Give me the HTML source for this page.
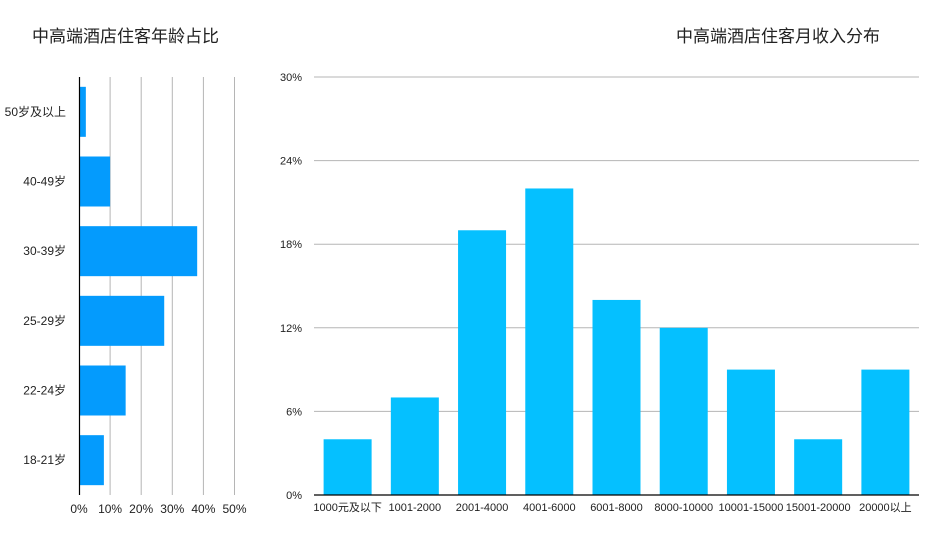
<!DOCTYPE html>
<html><head><meta charset="utf-8"><style>
body{margin:0;background:#fff;font-family:"Liberation Sans","Noto Sans CJK SC",sans-serif;}
svg text{font-family:"Liberation Sans","Noto Sans CJK SC",sans-serif;fill:#222;}
</style></head><body>
<svg id="c" width="931" height="537">
<text x="32" y="42" font-size="17">中高端酒店住客年龄占比</text>
<text x="778" y="42" font-size="17" text-anchor="middle">中高端酒店住客月收入分布</text>
<g id="left"></g>
<g id="right"></g>
</svg>
<script>
const ageCats=["50岁及以上","40-49岁","30-39岁","25-29岁","22-24岁","18-21岁"];
const ageVals=[2.2,10,38,27.4,15,8];
const ageTicks=[0,10,20,30,40,50];
const incCats=["1000元及以下","1001-2000","2001-4000","4001-6000","6001-8000","8000-10000","10001-15000","15001-20000","20000以上"];
const incVals=[4,7,19,22,14,12,9,4,9];
const incTicks=[0,6,12,18,24,30];
const NS="http://www.w3.org/2000/svg";
function mk(p,t,a){const e=document.createElementNS(NS,t);for(const k in a)e.setAttribute(k,a[k]);p.appendChild(e);return e;}
// left chart
const L=document.getElementById('left');
const lx=v=>79+v*3.11, lTop=77, lBot=495, band=(lBot-lTop)/ageCats.length;
ageTicks.forEach(t=>{
 if(t>0){const g=mk(L,'line',{x1:lx(t),x2:lx(t),y1:lTop,y2:lBot,stroke:'#b5b5b5','stroke-width':1});
 
 }
 const tx=mk(L,'text',{x:lx(t),y:513,'font-size':12,'text-anchor':'middle'});tx.textContent=t+'%';
 
 
});
ageCats.forEach((c,i)=>{
 const yc=lTop+band*(i+0.5);
 const r=mk(L,'rect',{x:lx(0),y:yc-25,width:lx(ageVals[i])-lx(0),height:50,fill:'#049bfd'});
 
 
 const t=mk(L,'text',{x:66,y:yc+4,'font-size':12,'text-anchor':'end'});t.textContent=c;
 
 
});
const la=mk(L,'line',{x1:79.5,x2:79.5,y1:lTop,y2:lBot,stroke:'#000','stroke-width':1.2});


// right chart
const R=document.getElementById('right');
const x0=314,x1=919,ry=v=>495-v*(418/30),rb=(x1-x0)/incCats.length;
incTicks.forEach(t=>{
 if(t>0){const g=mk(R,'line',{x1:x0,x2:x1,y1:ry(t),y2:ry(t),stroke:'#b5b5b5','stroke-width':1});
 
 }
 const tx=mk(R,'text',{x:302,y:ry(t)+4,'font-size':11,'text-anchor':'end'});tx.textContent=t+'%';
 
 
});
incCats.forEach((c,i)=>{
 const xc=x0+rb*(i+0.5);
 const r=mk(R,'rect',{x:xc-24,y:ry(incVals[i]),width:48,height:ry(0)-ry(incVals[i]),fill:'#05c0ff'});
 
 
 const t=mk(R,'text',{x:xc,y:511,'font-size':11,'text-anchor':'middle'});t.textContent=c;
 
 
});
const ra=mk(R,'line',{x1:x0,x2:x1,y1:495,y2:495,stroke:'#000','stroke-width':1.2});


</script>
</body></html>
